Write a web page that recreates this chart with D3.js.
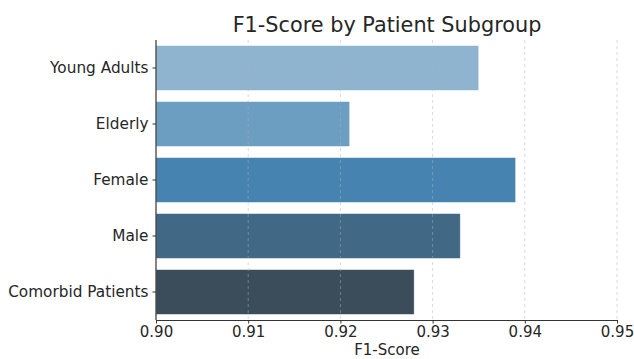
<!DOCTYPE html>
<html><head><meta charset="utf-8">
<script src="https://cdn.jsdelivr.net/npm/d3@7"></script>
<style>body{margin:0;background:#fff}svg{display:block}text{font-family:"DejaVu Sans",sans-serif}</style>
</head><body><svg id="c" width="634" height="359"></svg>
<script>
const categories = ["Young Adults","Elderly","Female","Male","Comorbid Patients"];
const values = [0.935,0.921,0.939,0.933,0.928];
const colors = ["#8fb4cf","#6b9ec0","#4783b0","#416884","#3b4d5b"];
const xTicks = [0.90,0.91,0.92,0.93,0.94,0.95];
const title = "F1-Score by Patient Subgroup";
const xLabel = "F1-Score";

const svg = d3.select("#c");
const m = {l:156,r:617,t:40,b:320};
const x = d3.scaleLinear().domain([0.90,0.95]).range([m.l,m.r]);
const y = d3.scaleBand().domain(categories).range([m.t,m.b]).paddingInner(0.2).paddingOuter(0.1);

svg.append("g").selectAll("rect").data(categories).join("rect")
  .attr("x",x(0.90)).attr("y",d=>y(d))
  .attr("width",(d,i)=>x(values[i])-x(0.90)).attr("height",y.bandwidth())
  .attr("fill",(d,i)=>colors[i]).attr("stroke","#ffffff").attr("stroke-opacity",0.5).attr("stroke-width",0.8);

svg.append("g").selectAll("line").data(xTicks.slice(1)).join("line")
  .attr("x1",d=>x(d)).attr("x2",d=>x(d)).attr("y1",m.t).attr("y2",m.b)
  .attr("stroke","#b0b0b0").attr("stroke-opacity",0.6).attr("stroke-width",0.8).attr("stroke-dasharray","3,3");

const xa = svg.append("g").attr("transform",`translate(0,${m.b})`)
  .call(d3.axisBottom(x).tickValues(xTicks).tickFormat(d3.format(".2f")).tickSize(3.5).tickSizeOuter(0).tickPadding(2.5));
const ya = svg.append("g").attr("transform",`translate(${m.l},0)`)
  .call(d3.axisLeft(y).tickSize(3.5).tickSizeOuter(0).tickPadding(4));
[xa,ya].forEach(a=>{
  a.select(".domain").attr("stroke","#333").attr("stroke-width",1.2);
  a.selectAll(".tick line").attr("stroke","#333");
  a.selectAll("text").attr("fill","#262626").style("font-family","'DejaVu Sans',sans-serif");
});
xa.selectAll("text").style("font-size","15px");
ya.selectAll("text").style("font-size","15.3px");
ya.select(".domain").attr("d",`M0,${m.t}V${m.b}`);

svg.append("text").attr("x",387).attr("y",31.5).attr("text-anchor","middle")
  .attr("fill","#262626").style("font-size","20.8px").text(title);
svg.append("text").attr("x",387).attr("y",355).attr("text-anchor","middle")
  .attr("fill","#262626").style("font-size","15px").text(xLabel);
</script></body></html>
